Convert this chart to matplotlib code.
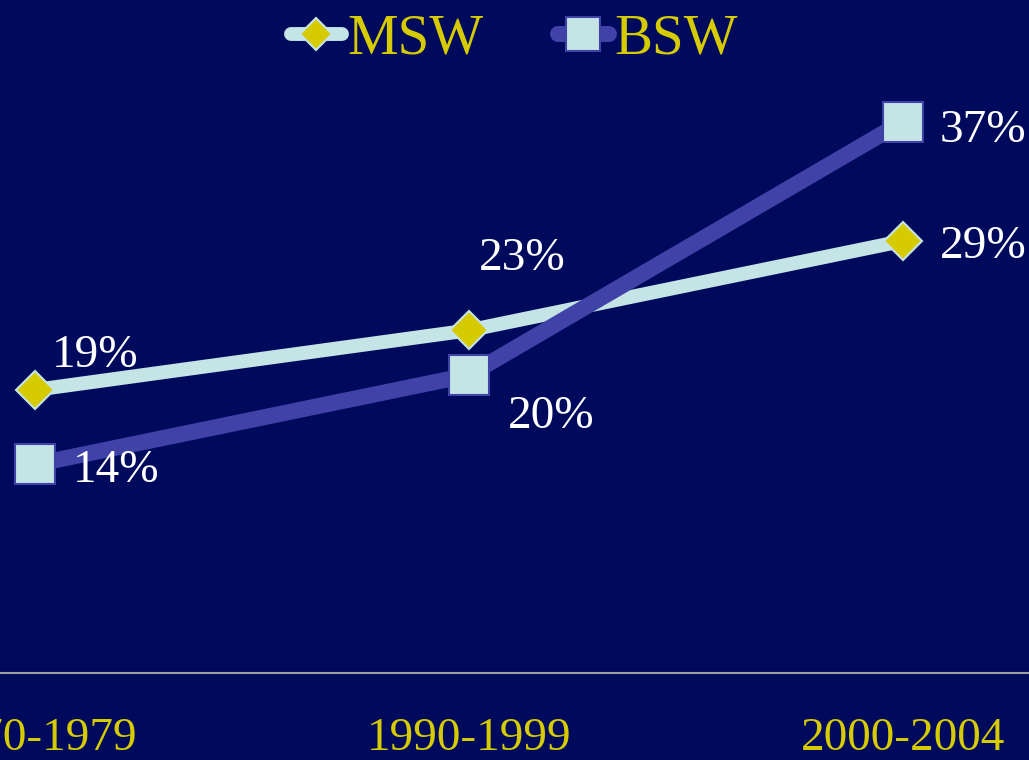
import matplotlib
matplotlib.use("Agg")
import matplotlib.pyplot as plt

categories = ["1970-1979", "1990-1999", "2000-2004"]
msw = [19, 23, 29]
bsw = [14, 20, 37]
msw_labels = ["19%", "23%", "29%"]
bsw_labels = ["14%", "20%", "37%"]

BG = "#000A5C"
YELLOW = "#D6CB00"
LIGHT = "#C4E4E6"
BLUE = "#4042A8"

plt.rcParams['font.family'] = ['Liberation Serif', 'DejaVu Serif']

fig = plt.figure(figsize=(10.29, 7.60), dpi=100, facecolor=BG)
ax = fig.add_axes([0, 87/760, 1, 673/760])
ax.set_facecolor(BG)

x = list(range(len(categories)))
ax.plot(x, msw, color=LIGHT, lw=10, solid_capstyle='round', marker='D', ms=19,
        mfc=YELLOW, mec=LIGHT, mew=1.5, label="MSW", clip_on=False, zorder=3)
ax.plot(x, bsw, color=BLUE, lw=11.5, solid_capstyle='round', marker='s', ms=28.5,
        mfc=LIGHT, mec=BLUE, mew=1.5, label="BSW", clip_on=False, zorder=4)

msw_off = [(17, 23), (10, 60), (37, -17)]
bsw_off = [(38, -18), (39, -53), (37, -20)]
for xi, v, t, off in zip(x, msw, msw_labels, msw_off):
    ax.annotate(t, (xi, v), xytext=off, textcoords='offset pixels', ha='left',
                va='baseline', color='white', fontsize=34, zorder=5)
for xi, v, t, off in zip(x, bsw, bsw_labels, bsw_off):
    ax.annotate(t, (xi, v), xytext=off, textcoords='offset pixels', ha='left',
                va='baseline', color='white', fontsize=34, zorder=5)

ax.set_xlim(-35/434, 2 + 126/434)
ax.set_ylim(0, 673/14.9)
ax.set_xticks(x)
ax.set_xticklabels(categories, color=YELLOW, fontsize=34)
ax.tick_params(axis='x', length=0, pad=32)
ax.set_yticks([])
for s in ['top', 'right', 'left']:
    ax.spines[s].set_visible(False)
ax.spines['bottom'].set_color('#A0A0A0')
ax.spines['bottom'].set_linewidth(1.5)

leg = fig.legend(loc='center', bbox_to_anchor=(0.5, 1 - 40/760), ncol=2, frameon=False,
                 fontsize=41, labelcolor=YELLOW, handlelength=0.9, handletextpad=0.1,
                 columnspacing=1.3, markerscale=0.85, borderaxespad=0, borderpad=0)

fig.savefig("out.png", dpi=100, facecolor=BG)
